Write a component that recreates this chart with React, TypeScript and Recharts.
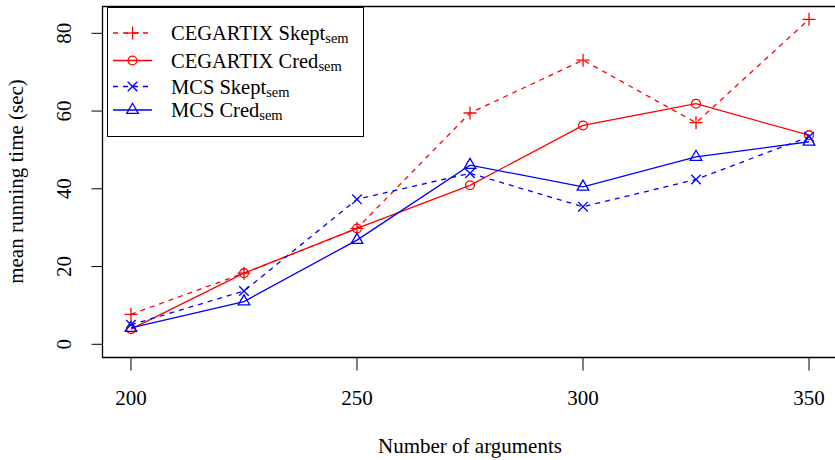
import React from 'react'
import { LineChart, Line, XAxis, YAxis, ReferenceArea, Legend, Label } from 'recharts'

// x values (number of arguments)
const argCounts = [200, 225, 250, 275, 300, 325, 350]
// mean running time (sec)
const cegartixSkept = [7.7, 18.3, 29.8, 59.5, 73.1, 57.0, 83.6]
const cegartixCred = [3.9, 18.3, 29.8, 40.9, 56.3, 61.9, 53.8]
const mcsSkept = [5.0, 13.7, 37.3, 44.0, 35.4, 42.4, 53.4]
const mcsCred = [4.2, 11.0, 26.8, 46.1, 40.5, 48.2, 52.1]

const xTicks = [200, 250, 300, 350]
const yTicks = [0, 20, 40, 60, 80]

const FONT = '"Liberation Serif", "DejaVu Serif", serif'
const RED = '#ff0000'
const BLUE = '#0000ff'

type MarkerKind = 'plus' | 'circle' | 'cross' | 'triangle'

const series: { key: string; label: string; color: string; dashed: boolean; marker: MarkerKind; values: number[] }[] = [
  { key: 'cSkept', label: 'CEGARTIX Skept', color: RED, dashed: true, marker: 'plus', values: cegartixSkept },
  { key: 'cCred', label: 'CEGARTIX Cred', color: RED, dashed: false, marker: 'circle', values: cegartixCred },
  { key: 'mSkept', label: 'MCS Skept', color: BLUE, dashed: true, marker: 'cross', values: mcsSkept },
  { key: 'mCred', label: 'MCS Cred', color: BLUE, dashed: false, marker: 'triangle', values: mcsCred },
]

const data = argCounts.map((n, i) => {
  const row: Record<string, number> = { n }
  for (const s of series) row[s.key] = s.values[i]
  return row
})

// R-style point symbols (pch 3, 1, 4, 2)
function Marker({ kind, cx, cy, color }: { kind: MarkerKind; cx: number; cy: number; color: string }) {
  const sw = 1.3
  if (kind === 'plus') {
    const a = 6.5
    return (
      <g stroke={color} strokeWidth={sw} fill="none">
        <line x1={cx - a} y1={cy} x2={cx + a} y2={cy} />
        <line x1={cx} y1={cy - a} x2={cx} y2={cy + a} />
      </g>
    )
  }
  if (kind === 'circle') return <circle cx={cx} cy={cy} r={4.4} stroke={color} strokeWidth={sw} fill="none" />
  if (kind === 'cross') {
    const a = 4.8
    return (
      <g stroke={color} strokeWidth={sw} fill="none">
        <line x1={cx - a} y1={cy - a} x2={cx + a} y2={cy + a} />
        <line x1={cx - a} y1={cy + a} x2={cx + a} y2={cy - a} />
      </g>
    )
  }
  const r = 6.7
  const hx = r * 0.866
  return (
    <polygon
      points={`${cx},${cy - r} ${cx + hx},${cy + r / 2} ${cx - hx},${cy + r / 2}`}
      stroke={color}
      strokeWidth={sw}
      fill="none"
    />
  )
}

function LegendBox() {
  const rowY = [26, 53.5, 79.5, 103]
  return (
    <svg width={257} height={130} style={{ display: 'block' }}>
      <rect x={0.5} y={0.5} width={256} height={129} fill="#fff" stroke="#000" strokeWidth={1} />
      {series.map((s, i) => (
        <g key={s.key}>
          <line
            x1={6}
            y1={rowY[i]}
            x2={45}
            y2={rowY[i]}
            stroke={s.color}
            strokeWidth={1.3}
            strokeDasharray={s.dashed ? '5 5' : undefined}
          />
          <Marker kind={s.marker} cx={25.5} cy={rowY[i]} color={s.color} />
          <text x={64} y={rowY[i] + 7} fontFamily={FONT} fontSize={20.5} fill="#000">
            {s.label}
            <tspan fontSize={14.5} dy={3}>sem</tspan>
          </text>
        </g>
      ))}
    </svg>
  )
}

const YTick = (props: any) => {
  const { y, payload } = props
  return (
    <text x={71} y={y} transform={`rotate(-90 71 ${y})`} textAnchor="middle" fontFamily={FONT} fontSize={21} fill="#000">
      {payload.value}
    </text>
  )
}

const XTick = (props: any) => {
  const { x, payload } = props
  return (
    <text x={x} y={405} textAnchor="middle" fontFamily={FONT} fontSize={21} fill="#000">
      {payload.value}
    </text>
  )
}

export default function App() {
  return (
    <div style={{ width: 835, height: 460, overflow: 'hidden', position: 'relative', background: '#fff' }}>
      <style>{'body{margin:0}'}</style>
      <LineChart width={845} height={460} data={data} margin={{ top: 6.5, right: 7.5, left: 0, bottom: 0 }}>
        <XAxis
          dataKey="n"
          type="number"
          domain={[193.7, 356.3]}
          allowDataOverflow
          ticks={xTicks}
          height={102.5}
          axisLine={false}
          tickLine={{ stroke: '#000', strokeWidth: 1 }}
          tickSize={13}
          tick={<XTick />}
        >
          <Label
            content={() => (
              <text x={470} y={453} textAnchor="middle" fontFamily={FONT} fontSize={21} fill="#000">
                Number of arguments
              </text>
            )}
          />
        </XAxis>
        <YAxis
          type="number"
          domain={[-3.4, 86.9]}
          allowDataOverflow
          ticks={yTicks}
          width={102.5}
          axisLine={false}
          tickLine={{ stroke: '#000', strokeWidth: 1 }}
          tickSize={11}
          tick={<YTick />}
        >
          <Label
            content={() => (
              <text x={23} y={181.5} transform="rotate(-90 23 181.5)" textAnchor="middle" fontFamily={FONT} fontSize={21} fill="#000">
                mean running time (sec)
              </text>
            )}
          />
        </YAxis>
        <ReferenceArea x1={193.7} x2={356.3} y1={-3.4} y2={86.9} fill="none" stroke="#000" strokeWidth={1.3} fillOpacity={0} />
        {series.map((s) => (
          <Line
            key={s.key}
            dataKey={s.key}
            type="linear"
            stroke={s.color}
            strokeWidth={1.3}
            strokeDasharray={s.dashed ? '5 5' : undefined}
            dot={(p: any) => <Marker key={`${s.key}-${p.index}`} kind={s.marker} cx={p.cx} cy={p.cy} color={s.color} />}
            activeDot={false}
            isAnimationActive={false}
          />
        ))}
        <Legend
          layout="vertical"
          align="center"
          verticalAlign="middle"
          wrapperStyle={{ position: 'absolute', left: 107, top: 7, width: 257, height: 130 }}
          content={() => <LegendBox />}
        />
      </LineChart>
    </div>
  )
}
